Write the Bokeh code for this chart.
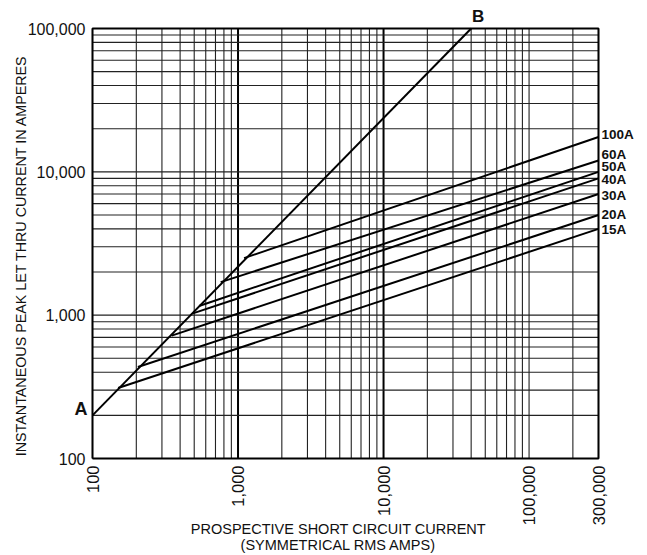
import math
from bokeh.plotting import figure
from bokeh.models import Range1d
from bokeh.embed import file_html
from bokeh.resources import INLINE

# ---- data ----
x_tick_values = [100, 1000, 10000, 100000, 300000]
x_tick_labels = ["100", "1,000", "10,000", "100,000", "300,000"]
y_tick_values = [100, 1000, 10000, 100000]
y_tick_labels = ["100", "1,000", "10,000", "100,000"]
x_title = ["PROSPECTIVE SHORT CIRCUIT CURRENT", "(SYMMETRICAL RMS AMPS)"]
y_title = "INSTANTANEOUS PEAK LET THRU CURRENT IN AMPERES"

# line A-B (unlimited let-thru)
ab_x = [100, 40000]
ab_y = [200, 100000]
ab_names = ["A", "B"]

fuse_labels = ["100A", "60A", "50A", "40A", "30A", "20A", "15A"]
fuse_start_x = [1100, 760, 540, 490, 350, 205, 150]
fuse_start_y = [2500, 1700, 1160, 1030, 720, 435, 310]
fuse_end_x = [300000, 300000, 300000, 300000, 300000, 300000, 300000]
fuse_end_y = [17500, 12000, 10000, 9000, 7000, 5000, 4000]

# ---- layout (pixels) ----
W, H = 645, 553
FL, FR, FT, FB = 92, 598, 28, 458          # plot box inside the canvas
label_nudge_up = [2, 6, 5, -1, -1, 0, -1]  # right-hand label nudges
FONT = "Liberation Sans"
INK = "#111111"

x_min, x_max = x_tick_values[0], x_tick_values[-1]
y_min, y_max = y_tick_values[0], y_tick_values[-1]
ppd_x = (FR - FL) / (math.log10(x_max) - math.log10(x_min))
ppd_y = (FB - FT) / (math.log10(y_max) - math.log10(y_min))
xr = Range1d(10 ** (math.log10(x_min) - FL / ppd_x),
             10 ** (math.log10(x_max) + (W - FR) / ppd_x))
yr = Range1d(10 ** (math.log10(y_min) - (H - FB) / ppd_y),
             10 ** (math.log10(y_max) + FT / ppd_y))

p = figure(width=W, height=H, x_axis_type="log", y_axis_type="log",
           x_range=xr, y_range=yr, x_axis_location=None, y_axis_location=None,
           output_backend="svg", toolbar_location=None, min_border=0)
p.outline_line_color = None
p.background_fill_color = "white"
p.border_fill_color = "white"
p.grid.visible = False

# ---- log grid ----
x_grid = [k * d for d in (100, 1000, 10000, 100000) for k in range(1, 10) if k * d <= x_max]
y_grid = [k * d for d in (100, 1000, 10000) for k in range(1, 10)] + [y_max]
x_thin = [v for v in x_grid if v not in (1000, 10000)]
x_thick = [1000, 10000]
p.segment(x0=x_thin, y0=[y_min] * len(x_thin), x1=x_thin, y1=[y_max] * len(x_thin),
          line_color="#222222", line_width=1.1)
p.segment(x0=x_thick, y0=[y_min] * 2, x1=x_thick, y1=[y_max] * 2,
          line_color="black", line_width=2)
p.segment(x0=[x_min] * len(y_grid), y0=y_grid, x1=[x_max] * len(y_grid), y1=y_grid,
          line_color="#222222", line_width=1.1)
# frame
p.line([x_min, x_max, x_max, x_min, x_min], [y_min, y_min, y_max, y_max, y_min],
       line_color="black", line_width=2)

# ---- curves ----
p.line(ab_x, ab_y, line_color="black", line_width=2)
p.segment(x0=fuse_start_x, y0=fuse_start_y, x1=fuse_end_x, y1=fuse_end_y,
          line_color="black", line_width=2)

# ---- tick labels ----
p.text(x=[x_min] * len(y_tick_values), y=y_tick_values, text=y_tick_labels,
       x_offset=-7, text_align="right", text_baseline="middle",
       text_font={"value": FONT}, text_font_size="16px", text_color=INK)
p.text(x=x_tick_values, y=[y_min] * len(x_tick_values), text=x_tick_labels,
       angle=math.pi / 2, y_offset=7, text_align="right", text_baseline="middle",
       text_font={"value": FONT}, text_font_size="16.5px", text_color=INK)

# ---- axis titles ----
x_mid = 10 ** ((math.log10(x_min) + math.log10(x_max)) / 2)
y_mid = 10 ** ((math.log10(y_min) + math.log10(y_max)) / 2)
p.text(x=[x_mid, x_mid], y=[y_min, y_min], text=x_title,
       x_offset=-7, y_offset=[70, 86], text_align="center", text_baseline="middle",
       text_font={"value": FONT}, text_font_size="14.5px", text_color=INK)
p.text(x=[x_min], y=[y_mid], text=[y_title], angle=math.pi / 2,
       x_offset=-72, y_offset=12, text_align="center", text_baseline="middle",
       text_font={"value": FONT}, text_font_size="14.3px", text_color=INK)

# ---- curve labels ----
p.text(x=fuse_end_x, y=fuse_end_y, text=fuse_labels,
       x_offset=3, y_offset=[-n for n in label_nudge_up],
       text_align="left", text_baseline="middle",
       text_font={"value": FONT}, text_font_style="bold",
       text_font_size="13.5px", text_color=INK)
p.text(x=[ab_x[0]], y=[ab_y[0]], text=[ab_names[0]], x_offset=-5, y_offset=-6,
       text_align="right", text_baseline="middle",
       text_font={"value": FONT}, text_font_style="bold",
       text_font_size="18px", text_color=INK)
p.text(x=[ab_x[1]], y=[ab_y[1]], text=[ab_names[1]], x_offset=7, y_offset=-12,
       text_align="center", text_baseline="middle",
       text_font={"value": FONT}, text_font_style="bold",
       text_font_size="17px", text_color=INK)

open("out.html", "w").write(file_html(p, INLINE))
